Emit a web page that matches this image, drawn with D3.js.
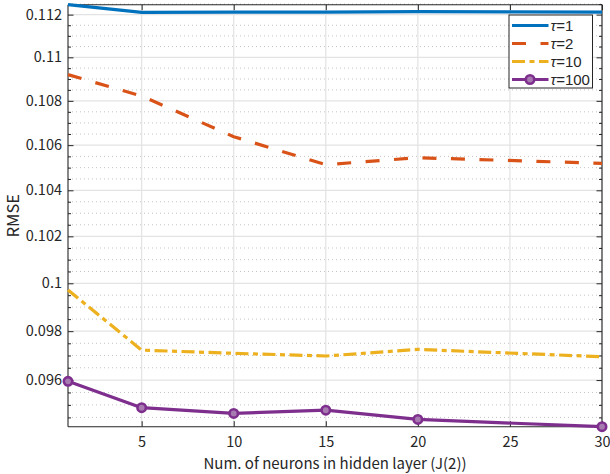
<html>
<head>
<meta charset="utf-8">
<style>
    body { margin:0; background:#ffffff; }
    text { font-family:"Noto Sans CJK JP","Noto Sans",sans-serif; fill:#262626; }
</style>
</head>
<body>
<svg id="plot"></svg>
<script src="https://d3js.org/d3.v7.min.js"></script>
<script>

// values
var neurons = [1, 5, 10, 15, 20, 30];
var rmseTau1 = [0.11247, 0.11211, 0.11212, 0.11212, 0.11214, 0.11212];
var rmseTau2 = [0.10920, 0.10822, 0.10638, 0.10513, 0.10544, 0.10519];
var rmseTau10 = [0.09972, 0.09722, 0.09709, 0.09698, 0.09725, 0.09695];
var rmseTau100 = [0.09595, 0.09489, 0.09466, 0.09479, 0.09442, 0.09413];
var tauNames = ["1", "2", "10", "100"];
var xTicks = [5, 10, 15, 20, 25, 30];
var yTicks = [0.096, 0.098, 0.1, 0.102, 0.104, 0.106, 0.108, 0.11, 0.112];
var yMinorTicks = [0.0945, 0.095, 0.0955, 0.0965, 0.097, 0.0975, 0.0985, 0.099, 0.0995,
    0.1005, 0.101, 0.1015, 0.1025, 0.103, 0.1035, 0.1045, 0.105, 0.1055,
    0.1065, 0.107, 0.1075, 0.1085, 0.109, 0.1095, 0.1105, 0.111, 0.1115, 0.1125];

var screen = {width:610, height:474};
var margins = {top:4.7, bottom:47.3, left:68, right:8};
var graph = {
    width:screen.width-margins.left-margins.right,
    height:screen.height-margins.top-margins.bottom
};

var styles = [
    {color:"#0072BD", dash:null},
    {color:"#D95319", dash:"14,14.5"},
    {color:"#EDB120", dash:"13,4.5,5,4.5"},
    {color:"#7E2F8E", dash:null}
];

var allSeries = [rmseTau1, rmseTau2, rmseTau10, rmseTau100];
var allValues = d3.merge(allSeries);

var svg = d3.select("#plot")
    .attr("width",screen.width)
    .attr("height",screen.height);

var xScale = d3.scaleLinear()
    .domain([1,30])
    .range([0,graph.width]);

var yScale = d3.scaleLog()
    .domain(d3.extent(allValues))
    .range([graph.height,0]);

var g = svg.append("g")
    .attr("transform","translate("+margins.left+","+margins.top+")");

// grid
g.append("g").selectAll("line")
    .data(yMinorTicks)
    .enter().append("line")
    .attr("x1",0).attr("x2",graph.width)
    .attr("y1",function(d){return yScale(d);})
    .attr("y2",function(d){return yScale(d);})
    .attr("stroke","#c4c4c4")
    .attr("stroke-width",1)
    .attr("stroke-dasharray","1,3");

g.append("g").selectAll("line")
    .data(yTicks)
    .enter().append("line")
    .attr("x1",0).attr("x2",graph.width)
    .attr("y1",function(d){return yScale(d);})
    .attr("y2",function(d){return yScale(d);})
    .attr("stroke","#e3e3e3")
    .attr("stroke-width",1.2);

g.append("g").selectAll("line")
    .data(xTicks)
    .enter().append("line")
    .attr("y1",0).attr("y2",graph.height)
    .attr("x1",function(d){return xScale(d);})
    .attr("x2",function(d){return xScale(d);})
    .attr("stroke","#e3e3e3")
    .attr("stroke-width",1.2);

// axes with inward ticks, boxed
var fmt = function(d){ return String(+d.toFixed(3)); };

var xAxis = d3.axisBottom(xScale).tickValues(xTicks).tickSize(-5.5).tickPadding(10.5);
var yAxis = d3.axisLeft(yScale).tickValues(yTicks).tickFormat(fmt).tickSize(-5.5).tickPadding(6);

var ax = g.append("g")
    .attr("transform","translate(0,"+graph.height+")")
    .call(xAxis);
var ay = g.append("g").call(yAxis);

var axTop = g.append("g").call(d3.axisTop(xScale).tickValues(xTicks).tickSize(-5.5).tickFormat(""));
var ayRight = g.append("g")
    .attr("transform","translate("+graph.width+",0)")
    .call(d3.axisRight(yScale).tickValues(yTicks).tickSize(-5.5).tickFormat(""));

var minorLeft = g.append("g").call(d3.axisLeft(yScale).tickValues(yMinorTicks).tickSize(-3).tickFormat(""));
var minorRight = g.append("g")
    .attr("transform","translate("+graph.width+",0)")
    .call(d3.axisRight(yScale).tickValues(yMinorTicks).tickSize(-3).tickFormat(""));

[ax, ay, axTop, ayRight, minorLeft, minorRight].forEach(function(a){
    a.selectAll("path").attr("stroke","#262626").attr("stroke-width",1.1);
    a.selectAll("line").attr("stroke","#262626").attr("stroke-width",1);
    a.selectAll("text")
        .style("font-family","'Noto Sans CJK JP','Noto Sans',sans-serif")
        .style("font-size","14.5px")
        .attr("fill","#262626");
});
[axTop, ayRight, minorLeft, minorRight].forEach(function(a){
    a.select("path.domain").remove();
});
ax.select("path.domain").attr("d","M0,0H"+graph.width);
ay.select("path.domain").attr("d","M0,0V"+graph.height);
g.append("line").attr("x1",0).attr("x2",graph.width).attr("y1",0).attr("y2",0)
    .attr("stroke","#262626").attr("stroke-width",1.1);
g.append("line").attr("x1",graph.width).attr("x2",graph.width).attr("y1",0).attr("y2",graph.height)
    .attr("stroke","#262626").attr("stroke-width",1.1);

// lines
var line = d3.line()
    .x(function(d,i){return xScale(neurons[i]);})
    .y(function(d){return yScale(d);});

allSeries.forEach(function(series,k){
    g.append("path")
        .datum(series)
        .attr("d",line)
        .attr("fill","none")
        .attr("stroke",styles[k].color)
        .attr("stroke-width",3.2)
        .attr("stroke-linejoin","round")
        .attr("stroke-dasharray",styles[k].dash);
});

g.append("g").selectAll("circle")
    .data(rmseTau100)
    .enter().append("circle")
    .attr("cx",function(d,i){return xScale(neurons[i]);})
    .attr("cy",function(d){return yScale(d);})
    .attr("r",4.2)
    .attr("fill","#a77bb0")
    .attr("stroke",styles[3].color)
    .attr("stroke-width",2.6);

// labels
svg.append("text")
    .text("RMSE")
    .attr("text-anchor","middle")
    .attr("transform","translate(19,"+(margins.top+graph.height/2)+") rotate(-90)")
    .style("font-size","16.5px");

svg.append("text")
    .text("Num. of neurons in hidden layer (J(2))")
    .attr("text-anchor","middle")
    .attr("x",margins.left+graph.width/2)
    .attr("y",469)
    .style("font-size","15px");

// legend
var legend = svg.append("g")
    .attr("transform","translate(509,15)");

legend.append("rect")
    .attr("width",83.5)
    .attr("height",73)
    .attr("fill","#ffffff")
    .attr("stroke","#262626")
    .attr("stroke-width",1);

tauNames.forEach(function(name,k){
    var yy = 10.5 + k*18;
    legend.append("line")
        .attr("x1",3).attr("x2",39.5)
        .attr("y1",yy).attr("y2",yy)
        .attr("stroke",styles[k].color)
        .attr("stroke-width",3.2)
        .attr("stroke-dasharray",styles[k].dash);
    if (k == 3) {
        legend.append("circle")
            .attr("cx",21).attr("cy",yy).attr("r",4.2)
            .attr("fill","#a77bb0")
            .attr("stroke",styles[3].color)
            .attr("stroke-width",2.6);
    }
    var t = legend.append("text")
        .attr("x",41.5)
        .attr("y",yy+5.5)
        .style("font-family","'Liberation Sans',Arial,sans-serif")
        .style("font-size","15px");
    t.append("tspan").text("τ").style("font-style","italic");
    t.append("tspan").text("=" + name);
});

</script>
</body>
</html>
